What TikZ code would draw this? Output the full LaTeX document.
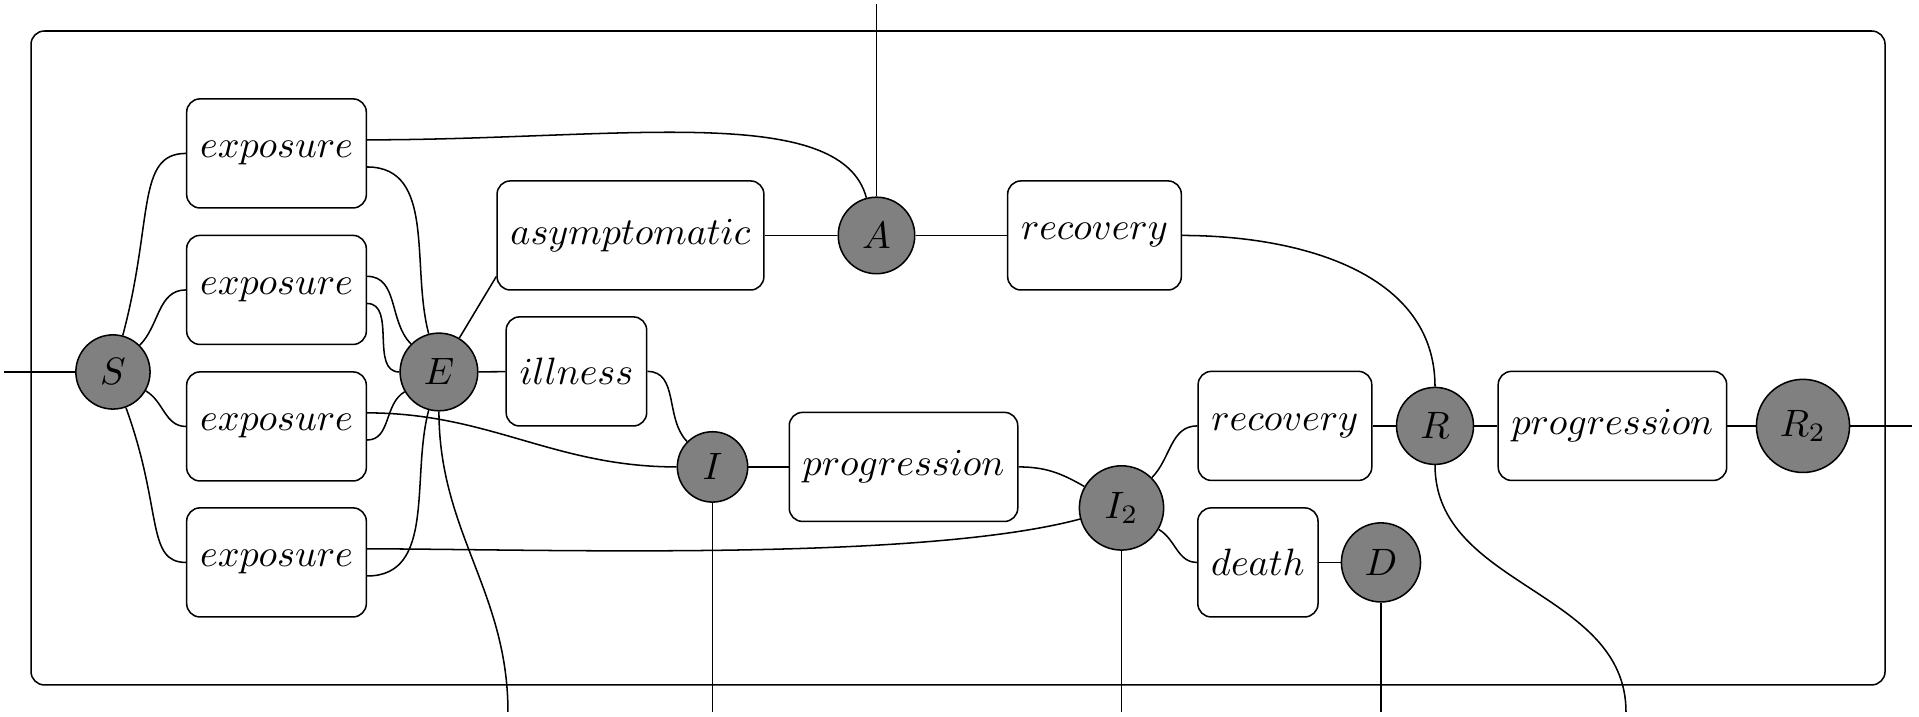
\documentclass[tikz,border=0pt]{standalone}
\usepackage{xcolor}
\usepackage{tikz}
\usetikzlibrary{positioning}
\tikzset{
    junc/.style = {circle, draw=black, fill=gray, inner sep=3.5pt},
    boxn/.style = {rectangle, rounded corners=3.5pt, draw=black, fill=white, inner xsep=3.5pt, minimum height=1.005cm},
}
\begin{document}
\begin{tikzpicture}[
	line width=0.4pt
]
\tikzset{
    wire/.style = {-},
    frame/.style = {-,rounded corners=3.5pt},
}
\useasboundingbox (0,0) rectangle (17.684,6.607);
\draw[frame] (0.286,0.295) rectangle (17.371,6.321);
%
\node[junc] at (1.041,3.179) (s) {$S$};
\node[junc] at (4.045,3.179) (e) {$E$};
\node[junc] at (8.077,4.437) (a) {$A$};
\node[junc] at (6.566,2.304) (i) {$I$};
\node[junc] at (10.335,1.926) (itwo) {$I_2$};
\node[junc] at (13.224,2.682) (r) {$R$};
\node[junc] at (16.615,2.682) (rtwo) {$R_2$};
\node[junc] at (12.726,1.424) (d) {$D$};
%
\node[boxn] at (2.548,5.193) (expa) {$exposure$};
\node[boxn] at (2.548,3.935) (expb) {$exposure$};
\node[boxn] at (2.548,2.677) (expc) {$exposure$};
\node[boxn] at (2.548,1.424) (expd) {$exposure$};
\node[boxn] at (5.810,4.437) (asym) {$asymptomatic$};
\node[boxn] at (5.312,3.184) (ill) {$illness$};
\node[boxn] at (10.086,4.437) (reca) {$recovery$};
\node[boxn] at (8.326,2.304) (prga) {$progression$};
\node[boxn] at (11.841,2.682) (recb) {$recovery$};
\node[boxn] at (11.592,1.424) (dth) {$death$};
\node[boxn] at (14.859,2.682) (prgb) {$progression$};
%
\coordinate (pin) at (0.037,3.179);
\coordinate (ptop) at (8.077,6.570);
\coordinate (pout) at (17.619,2.682);
\coordinate (pe) at (4.681,0.046);
\coordinate (pi) at (6.566,0.046);
\coordinate (pitwo) at (10.335,0.046);
\coordinate (pd) at (12.726,0.046);
\coordinate (pr) at (14.984,0.046);
%
\draw[wire] (pin) -- (s);
\draw[wire] (ptop) -- (a);
\draw[wire] (rtwo) -- (pout);
\draw[wire] (e) to[out=-90,in=90] (pe);
\draw[wire] (i) -- (pi);
\draw[wire] (itwo) -- (pitwo);
\draw[wire] (d) -- (pd);
\draw[wire] (r) to[out=-90,in=90] (pr);
%
\draw[wire] (s) to[out=75,in=180,out distance=1.1cm,in distance=0.46cm] (expa.west);
\draw[wire] (s) to[out=45,in=180] (expb.west);
\draw[wire] (s) to[out=-30,in=180] (expc.west);
\draw[wire] (s) to[out=-70,in=180,out distance=1.0cm,in distance=0.37cm] (expd.west);
%
\draw[wire] ([yshift=0.125cm]expa.east) to[out=0,in=105,out distance=2.3cm,in distance=0.92cm] (a);
\draw[wire] ([yshift=-0.125cm]expa.east) to[out=0,in=105] (e);
\draw[wire] ([yshift=0.125cm]expb.east) to[out=0,in=135] (e);
\draw[wire] ([yshift=-0.125cm]expb.east) to[out=0,in=180] (e);
\draw[wire] ([yshift=0.125cm]expc.east) to[out=0,in=180] (i);
\draw[wire] ([yshift=-0.125cm]expc.east) to[out=0,in=210] (e);
\draw[wire] ([yshift=0.125cm]expd.east) to[out=0,in=195,looseness=0.6] (itwo);
\draw[wire] ([yshift=-0.125cm]expd.east) to[out=0,in=255] (e);
%
\draw[wire] (e) -- (asym.197);
\draw[wire] (e) -- (ill);
\draw[wire] (ill) to[out=0,in=135] (i);
\draw[wire] (asym) -- (a);
\draw[wire] (a) -- (reca);
\draw[wire] (reca) to[out=0,in=90] (r);
%
\draw[wire] (i) -- (prga);
\draw[wire] (prga) to[out=0,in=150] (itwo);
\draw[wire] (itwo) to[out=45,in=180] (recb);
\draw[wire] (itwo) to[out=-30,in=180] (dth);
\draw[wire] (dth) -- (d);
\draw[wire] (recb) -- (r);
\draw[wire] (r) -- (prgb);
\draw[wire] (prgb) -- (rtwo);
\end{tikzpicture}
\end{document}
